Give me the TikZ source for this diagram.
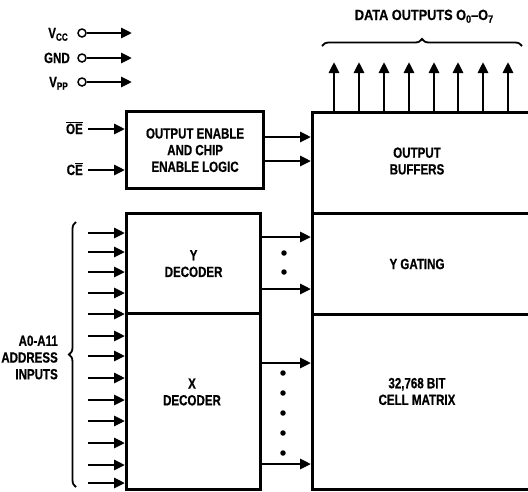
\documentclass[tikz,border=0pt]{standalone}
\usepackage{fontspec}
\setmainfont{Liberation Sans}[FakeStretch=0.78,BoldFeatures={FakeBold=0.6}]
\newfontfamily\widef{Liberation Sans}[FakeStretch=0.86,BoldFeatures={FakeBold=0.6}]
\usetikzlibrary{arrows.meta,decorations.pathreplacing}
\newcommand{\sbs}[1]{\raisebox{-0.35ex}{\fontsize{10.5}{10.5}\selectfont #1}}
\begin{document}
\begin{tikzpicture}[x=1pt,y=-1pt,
  font=\bfseries\fontsize{14.8}{16.7}\selectfont,
  arr/.style={line width=2.7pt,-{Triangle[length=11pt,width=10pt]}},
  box/.style={draw,line width=3.2pt,inner sep=0pt,align=center,anchor=north west},
  txt/.style={inner sep=0pt,align=center},
  lbl/.style={inner sep=0pt},
  pinc/.style={circle,draw,line width=1.5pt,minimum size=8pt,inner sep=0pt,fill=white},
  dotn/.style={circle,fill,minimum size=5.5pt,inner sep=0pt},
  brc/.style={decorate,decoration={brace,amplitude=7pt},line width=1.8pt}]
\useasboundingbox (0,0) rectangle (528,491);

% power pins
\node[lbl,anchor=base east] (vccl) at (68,38) {V\sbs{CC}};
\node[lbl,anchor=base east] (gndl) at (70,63) {GND};
\node[lbl,anchor=base east] (vppl) at (68,87) {V\sbs{PP}};
\node[pinc] (vccp) at (82,33) {};
\node[pinc] (gndp) at (82,58) {};
\node[pinc] (vppp) at (82,82) {};
\coordinate (vcce) at (132,33);
\coordinate (gnde) at (132,58);
\coordinate (vppe) at (132,82);
\draw[arr] (vccp) -- (vcce);
\draw[arr] (gndp) -- (gnde);
\draw[arr] (vppp) -- (vppe);

% output enable logic
\node[box,minimum width=137pt,minimum height=77pt] (oebox) at (125,110)
  {OUTPUT ENABLE\\AND CHIP\\ENABLE LOGIC};
\node[lbl,anchor=base east] (oel) at (83,134) {$\overline{\hbox{OE}}$};
\node[lbl,anchor=base east] (cel) at (83,175) {C$\overline{\hbox{E}}$};
\coordinate (oes) at (88,129);
\coordinate (ces) at (88,170);
\draw[arr] (oes) -- (oes -| oebox.west);
\draw[arr] (ces) -- (ces -| oebox.west);

% decoders
\node[box,minimum width=134pt,minimum height=100pt] (ydec) at (125,212) {Y\\DECODER};
\node[box,minimum width=134pt,minimum height=176pt] (xdec) at (125,312) {};
\node[txt] (xdect) at (192,392) {X\\DECODER};

% right block
\node[box,minimum width=220pt,minimum height=101pt] (obuf) at (311,111) {};
\node[box,minimum width=220pt,minimum height=101pt] (ygate) at (311,212) {};
\node[box,minimum width=220pt,minimum height=175pt] (cmat) at (311,313) {};
\node[txt] (obuft) at (417,161) {OUTPUT\\BUFFERS};
\node[txt] (ygatet) at (417,264) {Y GATING};
\node[txt] (cmatt) at (417,391.5) {32,768 BIT\\CELL MATRIX};

% enable lines to buffers
\coordinate (en1) at (262,137);
\coordinate (en2) at (262,161);
\draw[arr] (en1 -| oebox.east) -- (en1 -| obuf.west);
\draw[arr] (en2 -| oebox.east) -- (en2 -| obuf.west);

% decoder outputs
\foreach \n/\yy in {y1/237,y2/289}{
  \coordinate (\n) at (259,\yy);
  \draw[arr] (\n -| ydec.east) -- (\n -| ygate.west);
}
\foreach \n/\yy in {x1/363,x2/464}{
  \coordinate (\n) at (259,\yy);
  \draw[arr] (\n -| xdec.east) -- (\n -| cmat.west);
}
\foreach \yy [count=\i] in {253,272}{ \node[dotn] (yd\i) at (284,\yy) {}; }
\foreach \yy [count=\i] in {373,393,413,433,453}{ \node[dotn] (xd\i) at (283,\yy) {}; }

% address inputs
\foreach \yy [count=\i] in {233,252,272,293,314,336,356,378,400,421,443,465,483}{
  \coordinate (a\i) at (88,\yy);
  \draw[arr] (a\i) -- (a\i -| ydec.west);
}
\draw[brc] (76,487) -- (76,222);
\node[txt,align=right,anchor=east] (addr) at (58,357.5) {A0-A11\\ADDRESS\\INPUTS};

% data outputs
\foreach \xx [count=\i] in {334,359,384,409,434,458,483,508}{
  \coordinate (d\i) at (\xx,62);
  \draw[arr] (d\i |- obuf.north) -- (d\i);
}
\draw[brc] (322,46) -- (522,46);
\node[lbl,anchor=base] (dout) at (424,20) {\widef DATA OUTPUTS O\sbs{0}\textendash O\sbs{7}};
\end{tikzpicture}
\end{document}
